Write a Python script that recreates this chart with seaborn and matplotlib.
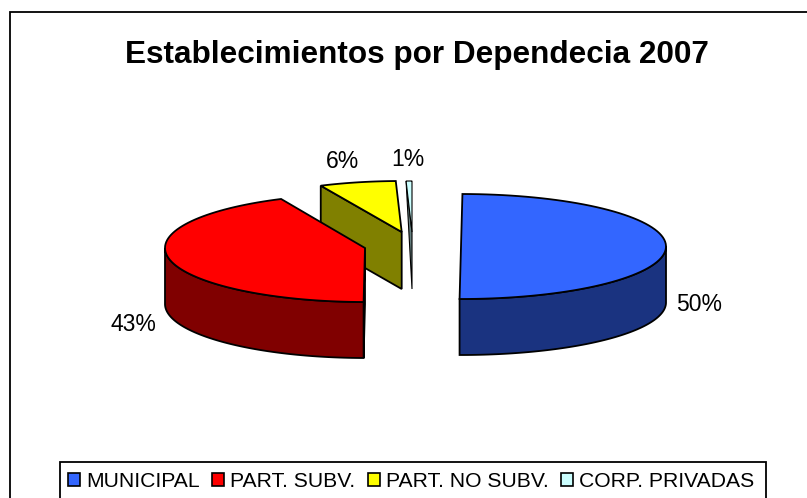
import numpy as np
import matplotlib
matplotlib.use("Agg")
import matplotlib.pyplot as plt
from matplotlib.patches import Patch, Polygon, Rectangle
import seaborn as sns

title = "Establecimientos por Dependecia 2007"
categories = ["MUNICIPAL", "PART. SUBV.", "PART. NO SUBV.", "CORP. PRIVADAS"]
shares = [50.0, 43.0, 6.4, 0.6]
top_colors = ["#3366FF", "#FF0000", "#FFFF00", "#CCFFFF"]
side_colors = ["#1A3380", "#800000", "#808000", "#668080"]

sns.set_theme(style="white")
plt.rcParams["font.family"] = ["Liberation Sans", "DejaVu Sans"]

fig, ax = plt.subplots(figsize=(8.07, 4.98), dpi=100)
fig.subplots_adjust(0, 0, 1, 1)
ax.set_xlim(0, 807)
ax.set_ylim(498, 0)
ax.axis("off")

# chart frame runs off the right and bottom of the picture
ax.add_patch(Rectangle((10, 12), 900, 600, fc="white", ec="black", lw=1.3, zorder=0))

# layout of each exploded slice: centre x, centre y, radius x, radius y
geom = [(461, 246.5, 205, 52.5), (365, 248, 200, 54), (401.7, 232, 193, 51), (412, 232, 193, 51)]
depths = [56, 56, 57, 57]
line_widths = [1.3, 1.3, 1.3, 0.8]
label_xy = [(699, 304), (133, 324), (342.5, 161), (407.5, 159)]
order = [3, 2, 1, 0]
face = {1: "quad", 2: "quad", 3: "tri"}
rotation = 0.4

edges = np.cumsum([0] + shares) * 3.6 + rotation
edges[-1] = 360.0


def pts(g, a0, a1, n=80):
    t = np.radians(np.linspace(a0, a1, n))
    return np.column_stack([g[0] + g[2] * np.sin(t), g[1] - g[3] * np.cos(t)])


for i in order:
    g, d = geom[i], depths[i]
    s, e = edges[i], edges[i + 1]
    apex = np.array(g[:2])
    shift = np.array([0, d])
    lw = line_widths[i]
    if i in face:
        p0 = pts(g, s, s, 1)[0]
        poly = [p0, apex, apex + shift] if face[i] == "tri" else [p0, apex, apex + shift, p0 + shift]
        ax.add_patch(Polygon(poly, fc=side_colors[i], ec="black", lw=lw, joinstyle="miter"))
    lo, hi = max(s, 90), min(e, 270)
    if lo < hi:
        arc = pts(g, lo, hi)
        ax.add_patch(Polygon(np.vstack([arc, arc[::-1] + shift]), fc=side_colors[i], ec="black", lw=lw))
    ax.add_patch(Polygon(np.vstack([[apex], pts(g, s, e)]), fc=top_colors[i], ec="black", lw=lw, joinstyle="miter"))

for v, xy in zip(shares, label_xy):
    ax.text(*xy, f"{v:.0f}%", ha="center", va="center", fontsize=16.5, color="black")

ax.text(417, 55, title, ha="center", va="center", fontsize=22.7, fontweight="bold", color="black")

# legend frame, then the legend entries on top of it
ax.add_patch(Rectangle((60, 462), 706, 60, fc="white", ec="black", lw=1.3, zorder=4))
handles = [Patch(fc=c, ec="black", lw=1.2) for c in top_colors]
leg = ax.legend(handles, categories, ncol=4, loc="upper left", bbox_to_anchor=(68, 472),
                bbox_transform=ax.transData, frameon=False, fontsize=15.2,
                handlelength=0.57, handleheight=0.57, handletextpad=0.28,
                columnspacing=0.6, borderaxespad=0, borderpad=0, labelcolor="black")
leg.set_zorder(5)

fig.savefig("out.png", dpi=100)
